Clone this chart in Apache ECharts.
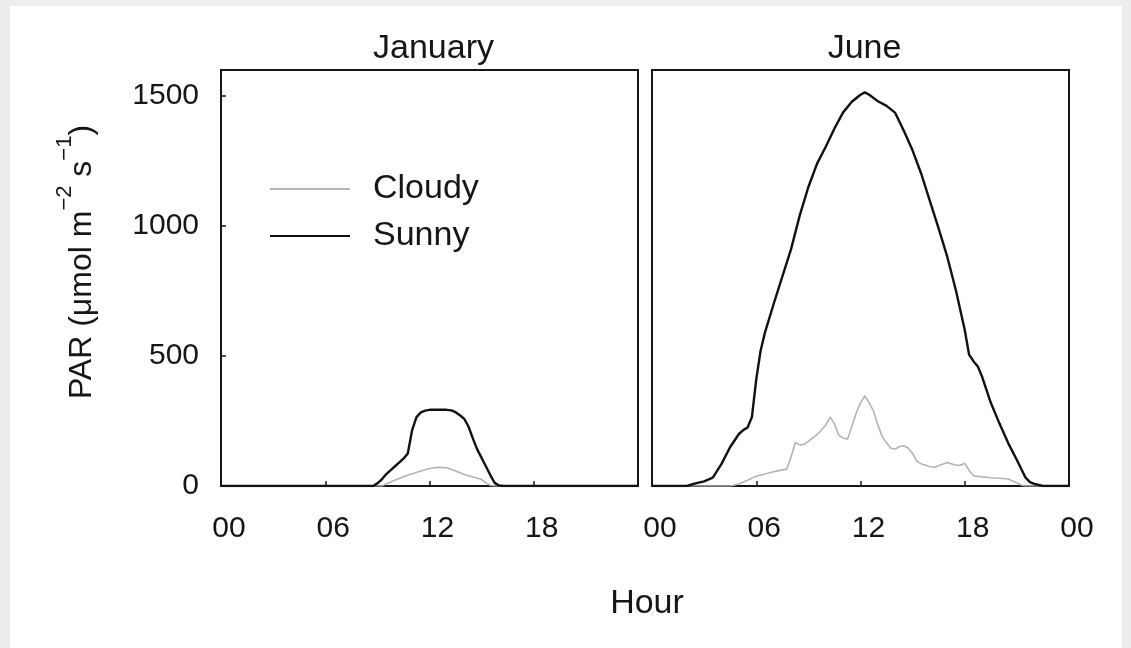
<!DOCTYPE html>
<html>
<head>
<meta charset="utf-8">
<title>PAR – January and June</title>
<script src="https://cdn.jsdelivr.net/npm/echarts@6/dist/echarts.min.js"></script>
<style>
  html, body { margin: 0; padding: 0; background: #ededed; }
  #sheet { position: absolute; left: 10px; top: 6px; width: 1112px; height: 642px; background: #ffffff; }
  #chart { position: absolute; left: 0; top: 0; width: 1131px; height: 648px; }
</style>
</head>
<body>
<div id="sheet"></div>
<div id="chart"></div>
<script>
// Hour-of-day axis (ticks every 6 h, midnight shown as "00")
const hourTicks = [0, 6, 12, 18, 24];
const hourLabels = ['00', '06', '12', '18', '00'];
// PAR axis ticks (µmol m-2 s-1)
const parTicks = [0, 500, 1000, 1500];
const parMax = 1600;

const panelTitles = ['January', 'June'];
const seriesNames = ['Cloudy', 'Sunny'];

// [hour, PAR] readings
const januaryCloudy = [
  [0, 0], [9.25, 0], [9.5, 8], [10, 22], [10.5, 36], [11, 47], [11.5, 58], [12, 67],
  [12.5, 72], [13, 70], [13.5, 58], [14, 44], [14.5, 35], [15, 25], [15.25, 12],
  [15.5, 3], [15.75, 0], [24, 0]
];
const januarySunny = [
  [0, 0], [8.75, 0], [9, 10], [9.25, 25], [9.5, 45], [9.75, 60], [10, 75], [10.25, 90],
  [10.5, 105], [10.75, 125], [11, 215], [11.25, 265], [11.5, 283], [11.75, 290],
  [12, 293], [13, 293], [13.25, 291], [13.5, 284], [13.75, 272], [14, 258], [14.25, 228],
  [14.5, 182], [14.75, 140], [15, 108], [15.25, 75], [15.5, 42], [15.75, 12], [16, 2],
  [16.25, 0], [24, 0]
];
const juneCloudy = [
  [0, 0], [4.5, 0], [5, 8], [5.5, 22], [6, 38], [6.5, 46], [7, 55], [7.5, 62], [7.75, 65],
  [8, 110], [8.25, 168], [8.5, 158], [8.75, 160], [9, 172], [9.25, 185], [9.5, 198],
  [9.75, 215], [10, 235], [10.25, 265], [10.5, 240], [10.75, 195], [11, 185], [11.25, 180],
  [11.5, 230], [11.75, 280], [12, 320], [12.25, 347], [12.5, 320], [12.75, 288], [13, 235],
  [13.25, 190], [13.5, 165], [13.75, 145], [14, 142], [14.25, 152], [14.5, 155], [14.75, 145],
  [15, 125], [15.25, 95], [15.5, 85], [15.75, 80], [16, 74], [16.25, 72], [16.5, 78],
  [16.75, 85], [17, 90], [17.25, 85], [17.5, 80], [17.75, 80], [18, 88], [18.25, 60],
  [18.5, 40], [18.75, 37], [19, 35], [19.5, 32], [20, 30], [20.5, 27], [21, 12],
  [21.25, 4], [21.5, 0], [24, 0]
];
const juneSunny = [
  [0, 0], [2, 0], [2.5, 10], [3, 18], [3.5, 32], [4, 85], [4.5, 150], [5, 200], [5.25, 215],
  [5.5, 225], [5.75, 265], [6, 410], [6.25, 520], [6.5, 590], [7, 700], [7.5, 805],
  [8, 910], [8.5, 1040], [9, 1150], [9.5, 1240], [10, 1305], [10.5, 1375], [11, 1437],
  [11.5, 1478], [12, 1505], [12.25, 1514], [12.5, 1505], [13, 1480], [13.5, 1462],
  [14, 1435], [14.5, 1365], [15, 1290], [15.5, 1200], [16, 1095], [16.5, 990], [17, 880],
  [17.5, 750], [18, 600], [18.25, 505], [18.5, 480], [18.75, 460], [19, 420], [19.5, 320],
  [20, 240], [20.5, 165], [21, 100], [21.5, 32], [21.75, 15], [22, 8], [22.5, 0], [24, 0]
];

const FONT = "'Liberation Sans', Arial, Helvetica, sans-serif";
const INK = '#161616';
const CLOUDY_COLOR = '#b4b4b4';
const SUNNY_COLOR = '#111111';
const NUM_SIZE = 30;   // tick numbers
const WORD_SIZE = 34;  // titles, legend and axis names

const panels = [
  { left: 221, cloudy: januaryCloudy, sunny: januarySunny, lastLabel: false, yLabels: true },
  { left: 652, cloudy: juneCloudy, sunny: juneSunny, lastLabel: true, yLabels: false }
];
const PANEL_TOP = 70, PANEL_W = 417, PANEL_H = 416;

const chart = echarts.init(document.getElementById('chart'), null, { renderer: 'canvas' });

const grids = panels.map(p => ({
  left: p.left, top: PANEL_TOP, width: PANEL_W, height: PANEL_H,
  show: true, borderColor: INK, borderWidth: 2, backgroundColor: 'transparent',
  outerBoundsMode: 'none'
}));

const xAxes = panels.map((p, i) => ({
  type: 'value', gridIndex: i, min: hourTicks[0], max: hourTicks[hourTicks.length - 1],
  interval: 6,
  axisLine: { show: true, onZero: false, lineStyle: { color: INK, width: 2 } },
  axisTick: { show: true, inside: true, length: 5, lineStyle: { color: INK, width: 1.5 },
              customValues: hourTicks.slice(1, -1) },
  axisLabel: {
    show: true, margin: 28, color: INK, fontFamily: FONT, fontSize: NUM_SIZE,
    padding: [0, 0, 0, 16],
    customValues: p.lastLabel ? hourTicks : hourTicks.slice(0, -1),
    formatter: v => hourLabels[hourTicks.indexOf(v)]
  },
  splitLine: { show: false }
}));

const yAxes = panels.map((p, i) => ({
  type: 'value', gridIndex: i, min: 0, max: parMax, interval: 500,
  axisLine: { show: true, lineStyle: { color: INK, width: 2 } },
  axisTick: { show: p.yLabels, inside: true, length: 5, lineStyle: { color: INK, width: 1.5 },
              customValues: parTicks.slice(1) },
  axisLabel: {
    show: p.yLabels, margin: 22, color: INK, fontFamily: FONT, fontSize: NUM_SIZE,
    padding: [7, 0, 0, 0],
    customValues: parTicks, formatter: v => String(v)
  },
  splitLine: { show: false }
}));

const series = [];
panels.forEach((p, i) => {
  series.push({
    name: seriesNames[0], type: 'line', xAxisIndex: i, yAxisIndex: i, data: p.cloudy,
    symbol: 'none', smooth: false, z: 3,
    lineStyle: { color: CLOUDY_COLOR, width: 1.6 }, itemStyle: { color: CLOUDY_COLOR },
    animation: false
  });
  series.push({
    name: seriesNames[1], type: 'line', xAxisIndex: i, yAxisIndex: i, data: p.sunny,
    symbol: 'none', smooth: false, z: 4,
    lineStyle: { color: SUNNY_COLOR, width: 2.4 }, itemStyle: { color: SUNNY_COLOR },
    animation: false
  });
});

const textStyleBase = { fontFamily: FONT, fontSize: WORD_SIZE, fill: INK };

const graphic = [
  // panel titles
  ...panelTitles.map((t, i) => ({
    type: 'text', x: panels[i].left + PANEL_W / 2 + 4, y: 49,
    style: Object.assign({}, textStyleBase, { text: t, textAlign: 'center', textVerticalAlign: 'middle' })
  })),
  // x-axis title
  {
    type: 'text', x: 647, y: 604,
    style: Object.assign({}, textStyleBase, { text: 'Hour', textAlign: 'center', textVerticalAlign: 'middle' })
  },
  // y-axis title with superscripts
  {
    type: 'text', x: 76, y: 262, rotation: Math.PI / 2,
    style: {
      text: '{n|PAR (μmol m}{s|−2}{n| s}{s|−1}{n|)}',
      textAlign: 'center', textVerticalAlign: 'middle',
      fontFamily: FONT, fill: INK,
      rich: {
        n: { fontFamily: FONT, fontSize: 32, lineHeight: 44, verticalAlign: 'bottom', fill: INK },
        s: { fontFamily: FONT, fontSize: 22, lineHeight: 24, verticalAlign: 'top', fill: INK }
      }
    }
  }
];

chart.setOption({
  backgroundColor: 'transparent',
  animation: false,
  grid: grids,
  xAxis: xAxes,
  yAxis: yAxes,
  series: series,
  legend: {
    show: true, orient: 'vertical', left: 270, top: 170, padding: 0,
    icon: 'rect', itemWidth: 80, itemHeight: 2, itemGap: 9,
    data: seriesNames,
    selectedMode: false,
    textStyle: { fontFamily: FONT, fontSize: WORD_SIZE, color: INK, lineHeight: 38, padding: [0, 0, 0, 18] }
  },
  graphic: graphic
});
</script>
</body>
</html>
